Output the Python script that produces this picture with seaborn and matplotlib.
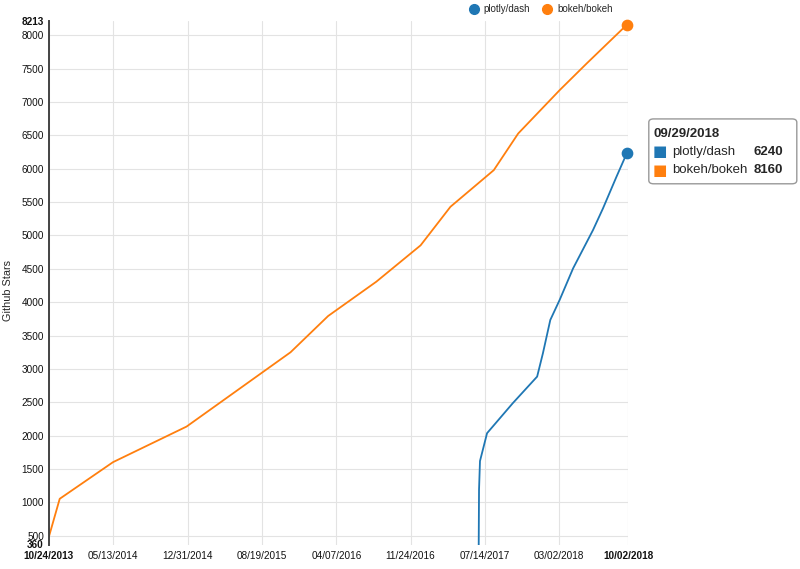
import pandas as pd
import numpy as np
import matplotlib.pyplot as plt
import matplotlib.transforms as mtransforms
from matplotlib.lines import Line2D
from matplotlib.patches import FancyBboxPatch
import seaborn as sns

# Star counts
dash_dates = ['2017-06-24', '2017-06-25', '2017-06-28', '2017-07-20', '2017-10-08',
              '2017-12-23', '2018-01-10', '2018-02-02', '2018-03-03', '2018-04-14',
              '2018-06-15', '2018-07-16', '2018-08-27', '2018-09-29']
dash_stars = [360, 1190, 1620, 2037, 2486, 2885, 3235, 3734, 4033, 4507, 5081, 5405, 5879, 6240]

bokeh_dates = ['2013-10-24', '2013-11-27', '2014-05-12', '2014-12-27', '2015-11-16',
               '2016-03-12', '2016-08-09', '2016-12-25', '2017-03-28', '2017-08-10',
               '2017-10-25', '2018-03-03', '2018-05-26', '2018-09-29']
bokeh_stars = [480, 1054, 1603, 2136, 3250, 3793, 4307, 4852, 5430, 5979, 6528, 7177, 7576, 8160]

repos = ['plotly/dash', 'bokeh/bokeh']
colors = ['#1f77b4', '#ff7f0e']

x_ticks = ['10/24/2013', '05/13/2014', '12/31/2014', '08/19/2015', '04/07/2016',
           '11/24/2016', '07/14/2017', '03/02/2018', '10/02/2018']
y_ticks = [360, 500, 1000, 1500, 2000, 2500, 3000, 3500, 4000, 4500, 5000,
           5500, 6000, 6500, 7000, 7500, 8000, 8213]
hover_date = '09/29/2018'

data = pd.concat([
    pd.DataFrame({'date': pd.to_datetime(dash_dates), 'stars': dash_stars, 'repo': repos[0]}),
    pd.DataFrame({'date': pd.to_datetime(bokeh_dates), 'stars': bokeh_stars, 'repo': repos[1]}),
])

sns.set_style('whitegrid', {'grid.color': '#e3e3e3'})
plt.rcParams['font.family'] = ['Liberation Sans', 'DejaVu Sans']

fig = plt.figure(figsize=(8, 5.69), dpi=100)
ax = fig.add_axes([0.061, 0.042, 0.724, 0.921])

sns.lineplot(data=data, x='date', y='stars', hue='repo', palette=colors,
             linewidth=1.3, legend=False, ax=ax)

# end markers on the hovered date
for dates, stars, c in [(dash_dates, dash_stars, colors[0]), (bokeh_dates, bokeh_stars, colors[1])]:
    ax.scatter(pd.to_datetime(dates[-1]), stars[-1], s=55, color=c, zorder=5, clip_on=False)

xt = pd.to_datetime(x_ticks, format='%m/%d/%Y')
ax.set_xlim(xt[0], xt[-1])
ax.set_ylim(y_ticks[0], y_ticks[-1])
ax.set_xticks(xt)
ax.set_xticklabels(x_ticks, fontsize=7.2)
ax.set_yticks(y_ticks)
ax.set_yticklabels([str(v) for v in y_ticks], fontsize=7.2)
for lbl in (ax.get_xticklabels()[0], ax.get_xticklabels()[-1],
            ax.get_yticklabels()[0], ax.get_yticklabels()[-1]):
    lbl.set_fontweight('bold')
ax.tick_params(axis='y', length=2.5, width=0.8, color='#999999', pad=1, labelcolor='#111111')
ax.tick_params(axis='x', length=0, pad=4.5, labelcolor='#111111')

# nudge the bottom y label up a touch so it clears the first date
lbl360 = ax.get_yticklabels()[0]
lbl360.set_transform(lbl360.get_transform() +
                     mtransforms.ScaledTranslation(0, 1.5 / 100, fig.dpi_scale_trans))

# no grid line on the end ticks of y
for i, gl in enumerate(ax.get_ygridlines()):
    if i in (0, len(y_ticks) - 1):
        gl.set_visible(False)
ax.get_xgridlines()[-1].set_color('#cfcfcf')

for s in ['top', 'right', 'bottom']:
    ax.spines[s].set_visible(False)
ax.spines['left'].set_color('#444444')
ax.spines['left'].set_linewidth(1.4)

ax.set_xlabel('')
ax.set_ylabel('Github Stars', fontsize=7.8)
ax.yaxis.set_label_coords(-0.062, 0.485)

# legend at top
handles = [Line2D([], [], marker='o', linestyle='', color=c, markersize=7) for c in colors]
fig.legend(handles, repos, loc='center', bbox_to_anchor=(0.673, 0.984), ncol=2,
           frameon=False, fontsize=7, handletextpad=0.0, columnspacing=0.75)

# tooltip box
box = FancyBboxPatch((0.811, 0.677), 0.185, 0.114, boxstyle='round,pad=0,rounding_size=0.006',
                     transform=fig.transFigure, facecolor='white', edgecolor='#999999',
                     linewidth=1.0, zorder=10)
fig.patches.append(box)
fig.text(0.817, 0.765, hover_date, fontsize=9.5, fontweight='bold', va='center', zorder=11)
values = [dash_stars[-1], bokeh_stars[-1]]
for i, (name, c, v) in enumerate(zip(repos, colors, values)):
    yy = 0.733 - i * 0.032
    fig.text(0.816, yy, '\u25a0', color=c, fontsize=11, va='center',
             family='DejaVu Sans', zorder=11)
    fig.text(0.840, yy, name, fontsize=9.5, va='center', zorder=11)
    fig.text(0.979, yy, str(v), fontsize=9.5, fontweight='bold', va='center', ha='right', zorder=11)

fig.savefig('out.png', dpi=100)
